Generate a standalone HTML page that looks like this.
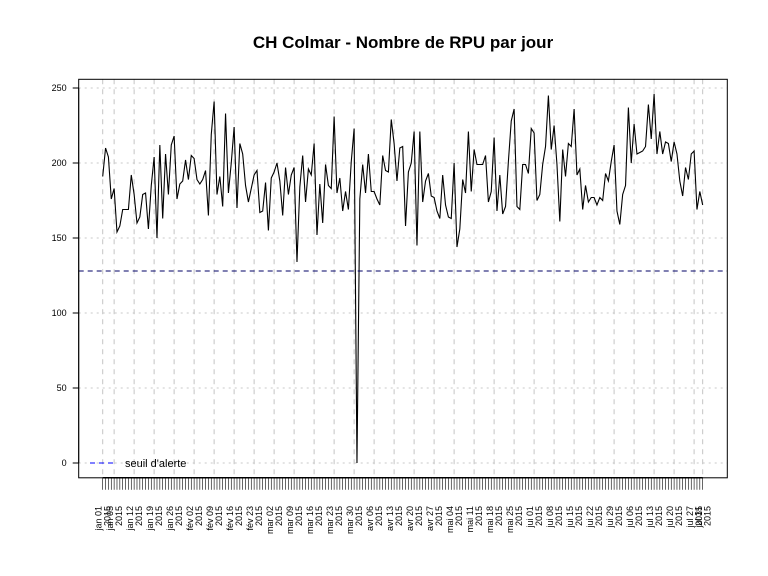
<!DOCTYPE html>
<html><head><meta charset="utf-8"><style>
html,body{margin:0;padding:0;background:#fff;}
svg{display:block;font-family:"Liberation Sans",Arial,sans-serif;}
</style></head><body>
<svg id="chart" width="768" height="576" viewBox="0 0 768 576" xmlns="http://www.w3.org/2000/svg">
<text x="403" y="48" text-anchor="middle" font-size="17" font-weight="bold">CH Colmar  - Nombre de RPU par jour</text>
<g id="grid"></g>
<g id="series"></g>
<g id="axes"></g>
<g>
<line x1="90" y1="463" x2="116" y2="463" stroke="#0000ff" stroke-dasharray="5,4" stroke-width="1"/>
<text x="125" y="467" font-size="11">seuil d'alerte</text>
</g>
</svg>
<script>
const values = [191,210,204,176,183,154,158,169,169,169,192,179,160,164,179,180,156,185,204,150,212,163,206,179,212,218,176,186,188,202,189,205,203,189,186,189,195,165,219,241,179,191,171,233,180,200,224,170,213,206,185,174,183,192,195,167,168,187,155,190,194,200,188,165,197,179,192,197,134,184,205,174,196,192,213,152,186,160,199,185,183,231,180,190,168,181,169,201,223,0,176,199,180,206,181,181,176,172,205,195,194,229,213,188,210,211,158,194,200,221,145,221,174,188,193,178,177,168,163,192,172,164,163,200,144,156,189,180,221,181,209,199,199,199,205,174,181,217,168,192,166,171,201,228,236,171,169,199,199,193,223,220,175,179,199,211,245,209,225,199,161,209,191,213,211,236,192,196,169,185,174,177,177,172,177,175,193,188,201,212,168,159,179,185,237,200,226,206,207,208,211,239,216,246,206,221,206,214,213,201,214,206,188,178,197,189,206,208,169,181,172];
const tickDays = [0,4,11,18,25,32,39,46,53,60,67,74,81,88,95,102,109,116,123,130,137,144,151,158,165,172,179,186,193,200,207,210];
const tickLabels = ["jan 01","jan 05","jan 12","jan 19","jan 26","fév 02","fév 09","fév 16","fév 23","mar 02","mar 09","mar 16","mar 23","mar 30","avr 06","avr 13","avr 20","avr 27","mai 04","mai 11","mai 18","mai 25","jui 01","jui 08","jui 15","jui 22","jui 29","jul 06","jul 13","jul 20","jul 27","jul 31"];
const yTicks = [0,50,100,150,200,250];
const threshold = [128];

const NS="http://www.w3.org/2000/svg";
const X0=102.7, DX=2.857, Y0=463, DY=1.5;
const L=78.7, R=727.3, T=79.3, B=477.8;
function xs(i){return X0+DX*i;}
function ys(v){return Y0-DY*v;}
function mk(parent,tag,attrs){const e=document.createElementNS(NS,tag);for(const k in attrs)e.setAttribute(k,attrs[k]);parent.appendChild(e);return e;}
const grid=document.getElementById('grid'), series=document.getElementById('series'), axes=document.getElementById('axes');

yTicks.forEach(v=>{
  const l=mk(grid,'line',{x1:L,x2:R,y1:ys(v),y2:ys(v),stroke:'#c8c8c8','stroke-dasharray':'2,4'});
  
  
});
tickDays.forEach(d=>{
  const l=mk(grid,'line',{x1:xs(d),x2:xs(d),y1:T,y2:B,stroke:'#c4c4c4','stroke-dasharray':'5,5'});
  
  
});

let dstr='';
values.forEach((v,i)=>{dstr+=(i?'L':'M')+xs(i).toFixed(2)+','+ys(v).toFixed(2);});
const p=mk(series,'path',{d:dstr,fill:'none',stroke:'#000','stroke-width':1.1});



threshold.forEach(t=>{
  const l=mk(series,'line',{x1:L,x2:R,y1:ys(t),y2:ys(t),stroke:'#000066','stroke-dasharray':'5,4','stroke-width':1});
  
  
});

const box=mk(axes,'rect',{x:L,y:T,width:R-L,height:B-T,fill:'none',stroke:'#000'});



const ya=mk(axes,'line',{x1:L,x2:L,y1:ys(0),y2:ys(250),stroke:'#000'});


yTicks.forEach(v=>{
  const t=mk(axes,'line',{x1:L-6,x2:L,y1:ys(v),y2:ys(v),stroke:'#000'});
  
  
  const tx=mk(axes,'text',{x:L-12,y:ys(v)+3,'text-anchor':'end','font-size':9});
  tx.textContent=v;
  
  
});

for(let i=0;i<values.length;i++){
  const t=mk(axes,'line',{x1:xs(i),x2:xs(i),y1:B,y2:B+12,stroke:'#000','stroke-width':0.6});
  
  
}
const xa=mk(axes,'line',{x1:xs(0),x2:xs(values.length-1),y1:B,y2:B,stroke:'#000','stroke-width':1.5});


tickDays.forEach((d,k)=>{
  const x=xs(d);
  const g=mk(axes,'text',{transform:`translate(${x},506) rotate(-90)`,'text-anchor':'end','font-size':9});
  
  
  const s1=mk(g,'tspan',{x:0,y:-1});s1.textContent=tickLabels[k];
  const s2=mk(g,'tspan',{x:0,y:8});s2.textContent='2015';
});
</script>
</body></html>
